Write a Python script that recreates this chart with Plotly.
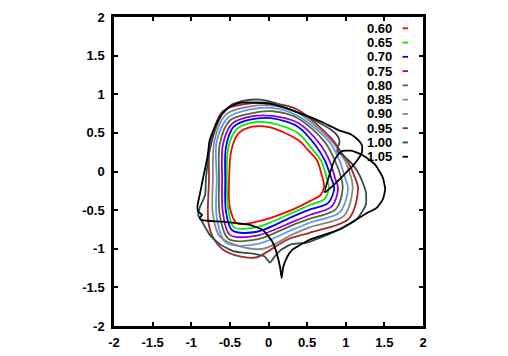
import plotly.graph_objects as go

labels = ["0.60", "0.65", "0.70", "0.75", "0.80", "0.85", "0.90", "0.95", "1.00", "1.05"]
colors = ["#ff0000", "#00ee00", "#0000ff", "#9400d3", "#556b2f",
          "#6495ed", "#888888", "#a52a2a", "#2f4f4f", "#000000"]

tick_vals = [-2, -1.5, -1, -0.5, 0, 0.5, 1, 1.5, 2]
tick_text = ["-2", "-1.5", "-1", "-0.5", "0", "0.5", "1", "1.5", "2"]

# curves (closed), each starting on the left side
x_060 = [-0.51, -0.50, -0.41, -0.15, 0.32, 0.54, 0.67, 0.72, 0.69, 0.63, 0.51, 0.38, 0.02, -0.21, -0.39, -0.48]
y_060 = [-0.10, -0.47, -0.67, -0.65, -0.49, -0.38, -0.31, -0.20, -0.05, 0.14, 0.28, 0.41, 0.57, 0.58, 0.49, 0.28]

x_065 = [-0.54, -0.52, -0.45, -0.15, 0.32, 0.54, 0.72, 0.78, 0.75, 0.68, 0.55, 0.38, 0.02, -0.23, -0.42, -0.52]
y_065 = [-0.10, -0.49, -0.72, -0.72, -0.53, -0.43, -0.36, -0.21, -0.07, 0.14, 0.31, 0.50, 0.63, 0.63, 0.54, 0.31]

x_070 = [-0.56, -0.55, -0.47, -0.15, 0.32, 0.54, 0.77, 0.85, 0.81, 0.73, 0.60, 0.38, 0.03, -0.24, -0.45, -0.55]
y_070 = [-0.10, -0.52, -0.76, -0.78, -0.58, -0.49, -0.41, -0.22, -0.08, 0.14, 0.35, 0.58, 0.69, 0.67, 0.58, 0.32]

x_075 = [-0.60, -0.59, -0.50, -0.15, 0.32, 0.54, 0.82, 0.90, 0.86, 0.79, 0.67, 0.38, 0.05, -0.24, -0.47, -0.59]
y_075 = [-0.10, -0.54, -0.82, -0.83, -0.65, -0.56, -0.45, -0.22, -0.08, 0.14, 0.35, 0.63, 0.72, 0.71, 0.62, 0.35]

x_080 = [-0.64, -0.63, -0.52, -0.15, 0.32, 0.54, 0.87, 0.96, 0.94, 0.86, 0.73, 0.38, 0.06, -0.24, -0.50, -0.63]
y_080 = [-0.10, -0.57, -0.87, -0.88, -0.69, -0.61, -0.49, -0.22, -0.08, 0.14, 0.38, 0.69, 0.78, 0.75, 0.66, 0.36]

x_085 = [-0.67, -0.67, -0.55, -0.15, 0.32, 0.54, 0.92, 1.03, 0.99, 0.92, 0.79, 0.38, 0.07, -0.25, -0.52, -0.67]
y_085 = [-0.10, -0.60, -0.92, -0.94, -0.75, -0.66, -0.53, -0.22, -0.08, 0.14, 0.38, 0.72, 0.82, 0.80, 0.70, 0.39]

x_090 = [-0.72, -0.72, -0.63, -0.37, -0.07, 0.32, 0.54, 0.98, 1.09, 1.07, 0.99, 0.83, 0.38, 0.08, -0.25, -0.55, -0.70]
y_090 = [-0.10, -0.56, -0.84, -0.97, -1.00, -0.81, -0.72, -0.57, -0.22, -0.08, 0.14, 0.38, 0.76, 0.85, 0.84, 0.74, 0.40]

x_095 = [-0.77, -0.78, -0.72, -0.59, -0.37, -0.15, -0.05, 0.25, 0.54, 1.04, 1.16, 1.12, 1.03, 0.92, 0.83, 0.38, 0.10, -0.26, -0.59, -0.76]
y_095 = [-0.10, -0.65, -0.85, -1.01, -1.10, -1.11, -1.06, -0.88, -0.79, -0.61, -0.22, -0.08, 0.12, 0.28, 0.41, 0.80, 0.88, 0.88, 0.78, 0.31]

x_100 = [-0.81, -0.82, -0.89, -0.91, -0.86, -0.76, -0.63, -0.46, -0.17, -0.05, 0.02, 0.08, 0.17, 0.30, 0.50, 0.83, 1.14, 1.26,
         1.26, 1.18, 1.09, 0.96, 0.89, 0.90, 0.92, 0.90, 0.81, 0.60, 0.34, 0.08, -0.11, -0.30, -0.47, -0.60, -0.69, -0.76]
y_100 = [-0.10, -0.30, -0.47, -0.56, -0.65, -0.82, -0.94, -1.03, -1.07, -1.10, -1.18, -1.10, -1.01, -0.94, -0.92, -0.79, -0.62, -0.43,
         -0.26, -0.05, 0.09, 0.21, 0.26, 0.32, 0.38, 0.45, 0.54, 0.66, 0.78, 0.89, 0.93, 0.92, 0.87, 0.74, 0.54, 0.28]

x_105 = [-0.85, -0.89, -0.92, -0.91, -0.86, -0.89, -0.86, -0.59, -0.24, -0.07, 0.05, 0.11, 0.15, 0.17,
         0.19, 0.24, 0.30, 0.54, 0.92, 1.27, 1.40, 1.48, 1.51, 1.48, 1.38, 1.22, 1.07, 0.94, 0.86, 0.79, 0.73,
         0.86, 1.03, 1.13, 1.21, 1.21, 1.16, 1.07, 0.92, 0.67, 0.28, 0.06, -0.15, -0.37, -0.50, -0.59, -0.67, -0.76, -0.79]
y_105 = [-0.10, -0.30, -0.45, -0.52, -0.56, -0.60, -0.63, -0.65, -0.69, -0.76, -0.91, -1.07, -1.24, -1.38,
         -1.24, -1.11, -1.02, -0.88, -0.75, -0.54, -0.47, -0.36, -0.23, -0.08, 0.09, 0.21, 0.27, 0.26, 0.16, -0.04, -0.27,
         -0.16, 0.01, 0.12, 0.25, 0.34, 0.41, 0.48, 0.53, 0.65, 0.80, 0.87, 0.89, 0.89, 0.84, 0.76, 0.63, 0.41, 0.19]

curves = [(x_060, y_060), (x_065, y_065), (x_070, y_070), (x_075, y_075), (x_080, y_080),
          (x_085, y_085), (x_090, y_090), (x_095, y_095), (x_100, y_100), (x_105, y_105)]

fig = go.Figure()
for lab, col, (xs, ys) in zip(labels, colors, curves):
    smooth = 0.9 if lab not in ("1.00", "1.05") else 0.5
    fig.add_trace(go.Scatter(
        x=xs + xs[:1], y=ys + ys[:1], mode="lines", name=lab,
        line=dict(color=col, width=1.8, shape="spline", smoothing=smooth),
        showlegend=False, hoverinfo="skip"))

font_main = dict(family="Liberation Sans, Arial, sans-serif", size=13, color="black", weight="bold")

axis_common = dict(
    range=[-2, 2], tickvals=tick_vals, ticktext=tick_text,
    showline=True, linecolor="black", linewidth=2.5, mirror="ticks",
    ticks="inside", ticklen=4, tickwidth=2, tickcolor="black",
    showgrid=False, zeroline=False, tickfont=font_main, automargin=False,
)

W, H = 508, 356
ML, MR, MT, MB = 114, 85, 17, 30
PW, PH = W - ML - MR, H - MT - MB

fig.update_layout(
    width=W, height=H, margin=dict(l=ML, r=MR, t=MT, b=MB),
    paper_bgcolor="white", plot_bgcolor="white",
    xaxis=dict(**axis_common, ticklabelstandoff=3),
    yaxis=dict(**axis_common, ticklabelstandoff=4),
    showlegend=False,
)

# legend (key) drawn in the top right corner
row0, row_step = 28.3, 14.27
for i, (lab, col) in enumerate(zip(labels, colors)):
    py = row0 + i * row_step
    yp = (MT + PH - py) / PH
    fig.add_annotation(x=(393 - ML) / PW, y=yp, xref="paper", yref="paper",
                       text=lab, showarrow=False, xanchor="right", yanchor="middle",
                       font=font_main, borderpad=0)
    fig.add_shape(type="line", xref="paper", yref="paper",
                  x0=(402.5 - ML) / PW, x1=(408 - ML) / PW, y0=yp, y1=yp,
                  line=dict(color=col, width=1.8))

fig.write_html("out.html", config={"displayModeBar": False},
               post_script="document.body.style.margin='0';")
